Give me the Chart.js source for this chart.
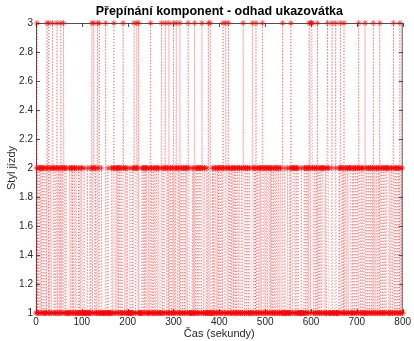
<!DOCTYPE html>
<html>
<head>
<meta charset="utf-8">
<script src="https://cdn.jsdelivr.net/npm/chart.js@4"></script>
<style>
html,body{margin:0;padding:0;background:#fff;}
#wrap{width:414px;height:341px;}
</style>
</head>
<body>
<div id="wrap"><canvas id="c" width="414" height="341"></canvas></div>
<script>
// Data
const chartTitle = "Přepínání komponent - odhad ukazovátka";
const xTitle = "Čas (sekundy)";
const yTitle = "Styl jízdy";
const sampleStepSeconds = 1;
const xTickValues = [0, 100, 200, 300, 400, 500, 600, 700, 800];
const yTickValues = [1, 1.2, 1.4, 1.6, 1.8, 2, 2.2, 2.4, 2.6, 2.8, 3];
const drivingStyle = [
  1,2,3,1,2,1,1,2,2,1,2,2,1,2,2,1,1,2,2,1,
  1,1,2,1,3,2,2,1,3,1,1,2,2,1,1,2,3,2,2,1,
  1,2,2,1,1,2,3,1,2,2,1,1,2,1,3,2,1,2,2,1,
  3,2,2,1,1,2,2,1,1,1,1,1,1,2,2,1,1,2,2,1,
  2,1,1,2,2,1,1,2,2,1,1,1,1,2,1,1,2,1,1,2,
  2,1,1,1,1,2,1,1,1,1,1,1,2,1,1,1,1,1,2,1,
  1,2,3,1,2,2,3,2,1,1,2,1,1,2,3,1,1,2,3,1,
  1,1,1,2,1,1,1,1,1,1,1,1,3,1,1,1,1,2,1,1,
  1,1,1,1,1,2,2,1,1,2,3,2,2,1,1,2,2,1,2,2,
  1,2,2,1,1,2,2,1,1,1,3,2,2,1,1,2,2,1,1,2,
  1,1,1,1,1,2,1,1,1,1,2,1,1,2,3,2,2,1,1,2,
  3,2,2,1,3,1,1,1,1,1,1,2,2,1,1,2,2,1,2,2,
  1,2,2,1,1,1,2,1,1,2,3,1,2,2,1,1,2,1,1,2,
  2,1,1,2,2,1,1,2,2,1,1,1,1,2,3,1,1,2,2,1,
  1,2,3,2,2,1,1,2,2,1,3,1,1,2,2,1,1,2,2,1,
  3,1,1,2,2,1,3,2,2,1,1,2,2,1,3,1,1,2,2,1,
  1,2,2,1,1,2,2,1,2,2,1,1,3,2,2,1,1,1,1,1,
  1,2,1,1,2,1,3,1,1,2,2,1,1,2,2,1,1,2,2,2,
  1,1,3,2,2,1,1,2,2,1,1,1,1,2,1,1,3,1,1,1,
  3,1,1,1,1,2,1,1,2,1,1,2,2,1,1,2,2,1,2,1,
  1,2,2,1,1,2,2,1,3,2,2,1,1,1,3,2,2,1,1,2,
  3,1,2,2,1,1,2,1,1,2,2,1,2,2,1,1,2,1,1,2,
  2,1,1,2,2,1,1,1,2,2,1,1,3,2,2,1,1,2,2,1,
  1,2,2,1,1,2,2,1,1,1,1,1,3,2,2,1,1,2,2,1,
  3,1,1,2,2,1,1,2,2,1,2,2,1,1,3,2,2,1,1,2,
  2,1,1,2,2,1,1,2,2,2,1,1,2,1,2,2,1,1,2,1,
  1,2,2,1,1,2,2,1,1,2,2,1,1,2,2,1,1,1,3,1,
  1,1,1,2,1,1,1,1,1,2,1,1,1,1,2,1,3,2,2,1,
  1,2,2,2,2,1,1,2,2,1,1,2,2,1,1,1,1,1,1,2,
  1,1,1,1,1,2,2,1,1,2,2,1,1,2,2,1,3,2,2,1,
  3,3,3,2,2,1,1,2,2,1,1,2,2,1,3,1,1,2,2,1,
  1,2,2,1,1,2,2,2,2,1,1,1,2,1,1,2,3,2,2,1,
  1,1,1,1,1,2,3,1,1,1,1,1,1,2,3,1,1,1,1,1,
  1,2,2,1,3,2,2,1,1,2,2,1,3,1,1,2,2,1,1,2,
  2,1,1,2,2,2,2,1,1,1,2,1,1,2,2,1,1,2,2,1,
  1,2,2,1,3,2,2,1,1,2,2,1,1,2,2,1,1,1,3,1,
  1,2,2,1,1,2,2,1,1,2,2,1,1,2,2,1,3,1,1,2,
  2,1,1,2,2,1,1,2,2,1,3,1,1,2,2,1,1,2,2,1,
  1,2,2,1,1,2,2,2,2,1,1,1,2,1,1,2,2,1,1,2,
  3,1,1,2,2,1,1,2,2,1,1,2,2,1,3,1,1,2,2,1,
  1
];

const points = drivingStyle.map((v, i) => ({x: i * sampleStepSeconds, y: v}));

const FONT = "'Liberation Sans', Arial, Helvetica, sans-serif";

const framePlugin = {
  id: 'frame',
  beforeDatasetsDraw(chart) {
    const {ctx, chartArea: a, scales} = chart;
    ctx.save();
    ctx.strokeStyle = '#262626';
    ctx.lineWidth = 0.8;
    ctx.strokeRect(a.left + 0.5, a.top + 0.5, a.right - a.left - 1, a.bottom - a.top - 1);
    const L = 4;
    ctx.beginPath();
    xTickValues.forEach(v => {
      const px = Math.round(scales.x.getPixelForValue(v)) + 0.5;
      ctx.moveTo(px, a.bottom); ctx.lineTo(px, a.bottom - L);
      ctx.moveTo(px, a.top); ctx.lineTo(px, a.top + L);
    });
    yTickValues.forEach(v => {
      const py = Math.round(scales.y.getPixelForValue(v)) + 0.5;
      ctx.moveTo(a.left, py); ctx.lineTo(a.left + L, py);
      ctx.moveTo(a.right, py); ctx.lineTo(a.right - L, py);
    });
    ctx.stroke();
    ctx.restore();
  }
};

new Chart(document.getElementById('c'), {
  type: 'line',
  data: {
    datasets: [{
      data: points,
      clip: false,
      borderColor: 'rgba(255,0,0,0.7)',
      borderWidth: 0.7,
      borderDash: [1, 2],
      pointStyle: 'star',
      pointRadius: 3,
      pointBorderWidth: 0.7,
      pointBorderColor: 'rgba(255,0,0,0.85)',
      pointBackgroundColor: 'rgba(255,0,0,0.85)',
      tension: 0,
      fill: false
    }]
  },
  options: {
    responsive: false,
    animation: false,
    devicePixelRatio: 1,
    layout: {padding: {left: 0, right: 8, top: 0, bottom: 0}},
    plugins: {
      legend: {display: false},
      tooltip: {enabled: false},
      title: {
        display: true,
        fullSize: false,
        text: chartTitle,
        color: '#000',
        font: {family: FONT, size: 12.5, weight: 'bold', lineHeight: 1.2},
        padding: {top: 4, bottom: 4}
      }
    },
    scales: {
      x: {
        type: 'linear',
        min: 0, max: 800,
        afterBuildTicks: s => { s.ticks = xTickValues.map(v => ({value: v})); },
        afterFit: s => { s.height = 28; },
        grid: {display: false, drawTicks: false},
        border: {display: false},
        ticks: {color: '#262626', font: {family: FONT, size: 10}, padding: 3, maxRotation: 0},
        title: {display: true, text: xTitle, color: '#262626', font: {family: FONT, size: 11}, padding: {top: 0, bottom: 0}}
      },
      y: {
        type: 'linear',
        min: 1, max: 3,
        afterBuildTicks: s => { s.ticks = yTickValues.map(v => ({value: v})); },
        afterFit: s => { s.width = 36; },
        grid: {display: false, drawTicks: false},
        border: {display: false},
        ticks: {color: '#262626', font: {family: FONT, size: 10}, padding: 3,
          callback: v => String(Math.round(v * 10) / 10)},
        title: {display: true, text: yTitle, color: '#262626', font: {family: FONT, size: 11}, padding: {top: 5, bottom: 0}}
      }
    }
  },
  plugins: [framePlugin]
});
</script>
</body>
</html>
